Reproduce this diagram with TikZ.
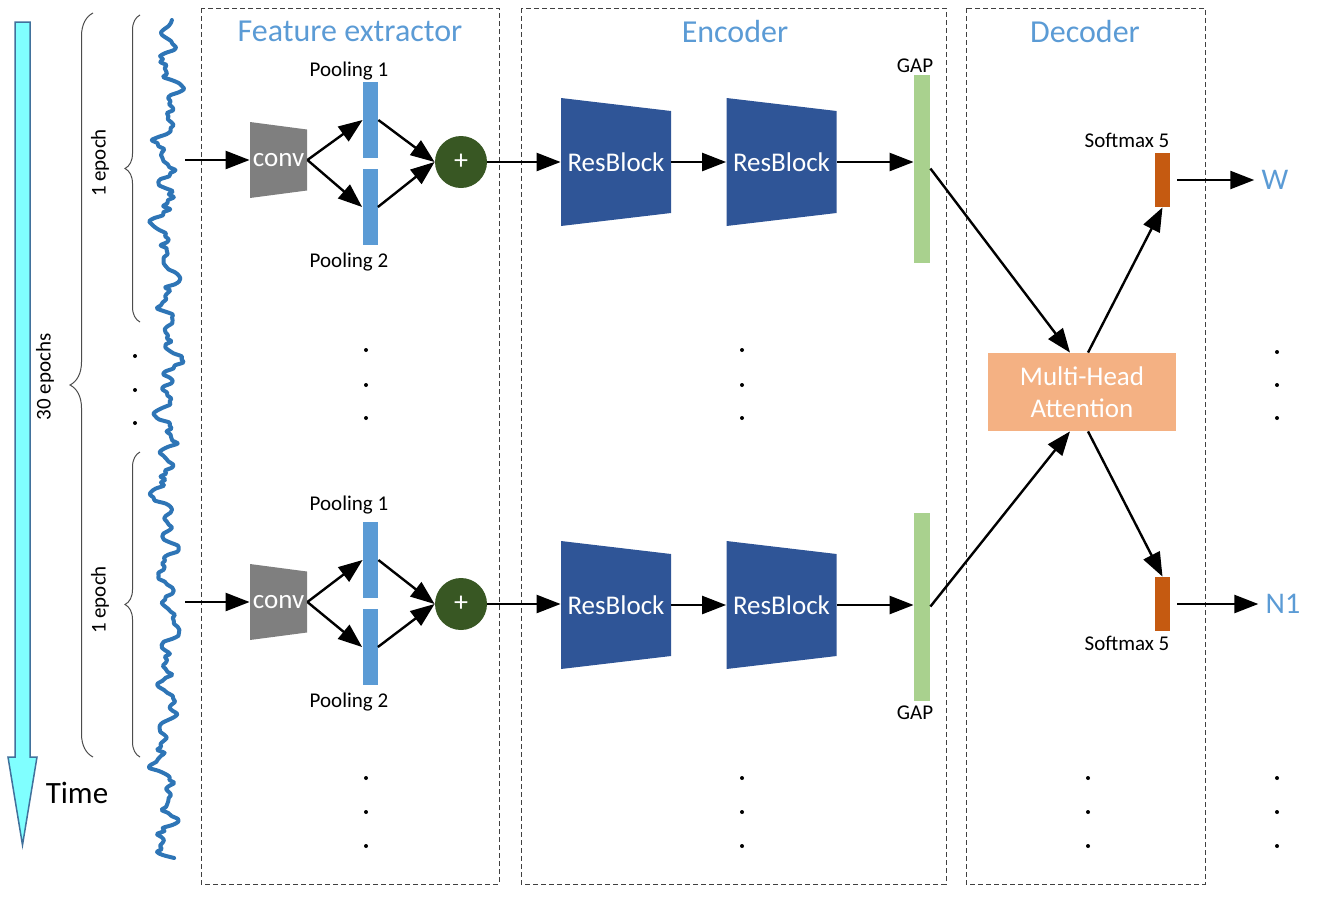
\documentclass[tikz,border=0pt]{standalone}
\usepackage{fontspec}
\setmainfont{Carlito}
\usepackage{xcolor}
\usepackage{tikz}
\usetikzlibrary{arrows.meta}
\usetikzlibrary{decorations.pathreplacing}

\definecolor{titleblue}{HTML}{5B9BD5}
\definecolor{poolblue}{HTML}{5B9BD5}
\definecolor{convgray}{HTML}{7F7F7F}
\definecolor{sumgreen}{HTML}{385723}
\definecolor{resblue}{HTML}{2F5597}
\definecolor{gapgreen}{HTML}{A9D18E}
\definecolor{softorange}{HTML}{C55A11}
\definecolor{attnorange}{HTML}{F4B183}
\definecolor{timecyan}{HTML}{80FFFF}
\definecolor{timeedge}{HTML}{41719C}
\definecolor{sigblue}{HTML}{2E75B6}
\definecolor{boxgray}{HTML}{404040}

\newcommand{\trapfill}[2]{\fill[#1] (path picture bounding box.north west) -- ([yshift=-#2]path picture bounding box.north east) -- ([yshift=#2]path picture bounding box.south east) -- (path picture bounding box.south west) -- cycle;}

\tikzset{
  every node/.style={inner sep=0pt},
  convbox/.style={minimum width=28.5pt, minimum height=38pt, text=white, font=\fontsize{13.5}{16}\selectfont, path picture={\trapfill{convgray}{3.75pt}}},
  resbox/.style={minimum width=55pt, minimum height=64pt, text=white, font=\fontsize{13.5}{16}\selectfont, path picture={\trapfill{resblue}{6.5pt}}},
  sumnode/.style={circle, fill=sumgreen, minimum size=26pt, text=white, font=\fontsize{14}{16}\selectfont},
  poolbar/.style={fill=poolblue, minimum width=7.5pt, minimum height=38pt},
  gapbar/.style={fill=gapgreen, minimum width=8pt, minimum height=94pt},
  smbar/.style={fill=softorange, minimum width=7.5pt, minimum height=27pt},
  attn/.style={fill=attnorange, minimum width=94pt, minimum height=39pt, text=white, align=center, font=\fontsize{13.5}{16}\selectfont},
  outtxt/.style={text=titleblue, font=\fontsize{15}{18}\selectfont, inner sep=3.5pt},
  ttl/.style={text=titleblue, font=\fontsize{16}{19}\selectfont},
  lbl/.style={font=\fontsize{10.5}{12}\selectfont},
  bigtxt/.style={font=\fontsize{15.5}{18}\selectfont},
  frame/.style={draw=boxgray, line width=0.5pt, dash pattern=on 2.5pt off 1.5pt},
  arr/.style={-{Triangle[length=12pt,width=9pt]}, line width=1.2pt},
  sig/.style={sigblue, line width=2pt, line join=round, line cap=round},
  timearrow/.style={fill=timecyan, draw=timeedge, line width=0.75pt},
  brc/.style={decorate, draw=black!70, line width=0.5pt}
}

\begin{document}
\begin{tikzpicture}[x=0.5pt,y=-0.5pt]
  \useasboundingbox (0,0) rectangle (1321,900);
  % time axis and braces
  \draw[timearrow] (15,22) -- (30,22) -- (30,757) -- (37,757) -- (22.5,845) -- (8,757) -- (15,757) -- cycle;
  \node[bigtxt] (time) at (77,793) {Time};
  \draw[brc,decoration={brace,amplitude=11.5pt}] (93,757) -- (93,13);
  \draw[brc,decoration={brace,amplitude=7.5pt}] (140,322) -- (140,15);
  \draw[brc,decoration={brace,amplitude=7.5pt}] (140,757) -- (140,452);
  \node[lbl,rotate=90] (ep30) at (45,377) {30 epochs};
  \node[lbl,rotate=90] (ep1a) at (100,163) {1 epoch};
  \node[lbl,rotate=90] (ep1b) at (100,600) {1 epoch};
  \fill (135,356) circle (1pt) (135,390) circle (1pt) (135,423) circle (1pt);
  % signal
  \pgfmathsetseed{11}
  \draw[sig] plot[smooth,domain=20:858,samples=280,variable=\t] ({167+5*sin(9.3*\t)+5*sin(4.1*\t+50)+4*sin(17.2*\t+20)+3*sin(1.3*\t)+3.5*rand},\t);
  \coordinate (in1) at (185,160);
  \coordinate (in2) at (185,602);

  % dashed frames
  \draw[frame] (201,8) rectangle (499,884);
  \draw[frame] (521,8) rectangle (946,884);
  \draw[frame] (966,8) rectangle (1205,884);
  \node[ttl] (tfe) at (350,31) {Feature extractor};
  \node[ttl] (tenc) at (735,31) {Encoder};
  \node[ttl] (tdec) at (1085,31) {Decoder};

  % first epoch
  \node[convbox] (conv1) at (278.5,160) {conv};
  \node[poolbar] (p11) at (370.5,120) {};
  \node[poolbar] (p12) at (370,207) {};
  \node[lbl] (lp11) at (349,71) {Pooling 1};
  \node[lbl] (lp12) at (349,262) {Pooling 2};
  \node[sumnode] (plus1) at (461,162) {+};
  \node[resbox] (rb11) at (616,162) {ResBlock};
  \node[resbox] (rb12) at (781.5,162) {ResBlock};
  \node[gapbar] (gap1) at (922,168.5) {};
  \node[lbl] (lgap1) at (915,66) {GAP};
  \draw[arr] (in1) -- (conv1.west);
  \draw[arr] (conv1.east) -- (p11.west);
  \draw[arr] (conv1.east) -- (p12.west);
  \draw[arr] (p11.east) -- (plus1.west);
  \draw[arr] (p12.east) -- (plus1.west);
  \draw[arr] (plus1.east) -- (rb11.west);
  \draw[arr] (rb11.east) -- (rb12.west);
  \draw[arr] (rb12.east) -- (rb12.east -| gap1.west);

  % second epoch
  \node[convbox] (conv2) at (278.5,602) {conv};
  \node[poolbar] (p21) at (370.5,560) {};
  \node[poolbar] (p22) at (370,647) {};
  \node[lbl] (lp21) at (349,505) {Pooling 1};
  \node[lbl] (lp22) at (349,702) {Pooling 2};
  \node[sumnode] (plus2) at (461,604) {+};
  \node[resbox] (rb21) at (616,605) {ResBlock};
  \node[resbox] (rb22) at (781.5,605) {ResBlock};
  \node[gapbar] (gap2) at (922,606.5) {};
  \node[lbl] (lgap2) at (915,713) {GAP};
  \draw[arr] (in2) -- (conv2.west);
  \draw[arr] (conv2.east) -- (p21.west);
  \draw[arr] (conv2.east) -- (p22.west);
  \draw[arr] (p21.east) -- (plus2.west);
  \draw[arr] (p22.east) -- (plus2.west);
  \draw[arr] (plus2.east) -- (plus2.east -| rb21.west);
  \draw[arr] (rb21.east) -- (rb22.west);
  \draw[arr] (rb22.east) -- (rb22.east -| gap2.west);

  % decoder
  \node[attn] (mha) at (1082,392) {Multi-Head\\Attention};
  \node[smbar] (sm1) at (1162.5,180) {};
  \node[smbar] (sm2) at (1162.5,604) {};
  \node[lbl] (lsm1) at (1127,140) {Softmax 5};
  \node[lbl] (lsm2) at (1127,643) {Softmax 5};
  \node[outtxt] (outw) at (1275,180) {W};
  \node[outtxt] (outn) at (1283,604) {N1};
  \draw[arr] (gap1.east) -- ([xshift=-6pt]mha.north);
  \draw[arr] (gap2.east) -- ([xshift=-6pt]mha.south);
  \draw[arr] ([xshift=3pt]mha.north) -- (sm1.south);
  \draw[arr] ([xshift=3pt]mha.south) -- (sm2.north);
  \draw[arr,shorten <=3.5pt] (sm1.east) -- (outw.west);
  \draw[arr,shorten <=3.5pt] (sm2.east) -- (outn.west);

  % dots
  \fill (366,350) circle (1pt) (366,385) circle (1pt) (366,418) circle (1pt);
  \fill (742,350) circle (1pt) (742,385) circle (1pt) (742,418) circle (1pt);
  \fill (1277,352) circle (1pt) (1277,385) circle (1pt) (1277,418) circle (1pt);
  \fill (366,778) circle (1pt) (366,812) circle (1pt) (366,846) circle (1pt);
  \fill (742,778) circle (1pt) (742,812) circle (1pt) (742,846) circle (1pt);
  \fill (1088,778) circle (1pt) (1088,812) circle (1pt) (1088,846) circle (1pt);
  \fill (1277,778) circle (1pt) (1277,812) circle (1pt) (1277,846) circle (1pt);
\end{tikzpicture}
\end{document}
